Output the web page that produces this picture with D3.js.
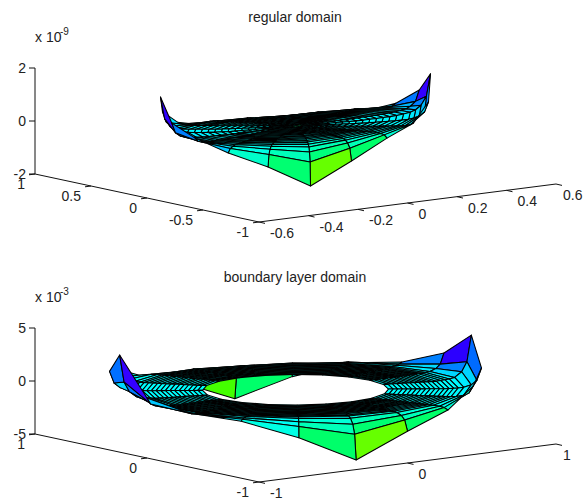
<!DOCTYPE html>
<html>
<head>
<meta charset="utf-8">
<script src="https://cdn.jsdelivr.net/npm/d3@7"></script>
<style>
body { margin: 0; background: #fff; }
text { font-family: "Liberation Sans", Arial, sans-serif; font-size: 14px; fill: #222; }
</style>
</head>
<body>
<div id="chart"></div>
<script>
// polar mesh, angle of every spoke in degrees
var spokes = [-108, -90, -72, -54, -36, -18, 0, 18, 36, 54, 72, 90, 108, 126, 144, 162, 180, 198, 216, 234]

// height on the outer rim for every spoke
var topRimZ = [-1.65, -0.87, -0.21, 0.13, 0.7, 1.54, 0.76, 0.15, -0.2, -0.85, -1.6, -0.87, -0.21, 0.13, 0.76, 1.52, 0.71, 0.25, -0.27, -0.83]
var botRimZ = [-4.27, -2, -0.67, 0.8, 1.58, 3.8, 1.32, -0.14, -0.6, -2, -3.9, -2, -0.67, 0.8, 1.5, 3.93, 0.66, -0.14, -0.55, -2]

// ring radii and how much of the rim height is left on each ring
var topRings = [0.5, 0.485, 0.465, 0.445, 0.425, 0.4, 0.375, 0.35, 0.325, 0.3, 0.275, 0.25, 0.225, 0.2, 0.175, 0.15, 0.125, 0.1, 0.075, 0.05, 0.025]
var topRingZ = [1, 0.46, 0.25, 0.15, 0.1, 0.07, 0.05, 0.035, 0.025, 0.015, 0.01, 0, 0, 0, 0, 0, 0, 0, 0, 0, 0]
var botRings = [1, 0.975, 0.945, 0.905, 0.875, 0.85, 0.825, 0.8, 0.775, 0.75, 0.725, 0.7, 0.675, 0.65, 0.625, 0.6, 0.575, 0.55, 0.525, 0.5]
var botRingZ = [1, 0.4, 0.18, 0.06, 0.03, 0.02, 0.01, 0, 0, 0, 0, 0, 0, 0, 0, 0, 0, 0, 0, 0]

var topHueZ = [-1.65, -0.87, -0.21, 0, 0.3, 0.76, 1.54]
var botHueZ = [-4.27, -2, -0.67, -0.35, 0.8, 1.4, 3.9]
var hues = [96, 145, 170, 180, 195, 212, 252]

var topXTicks = [-0.6, -0.4, -0.2, 0, 0.2, 0.4, 0.6]
var topYTicks = [-1, -0.5, 0, 0.5, 1]
var topZTicks = [-2, 0, 2]
var botXTicks = [-1, 0, 1]
var botYTicks = [-1, 0, 1]
var botZTicks = [-5, 0, 5]

var width = 583, height = 502

var svg = d3.select("#chart").append("svg")
    .attr("width", width)
    .attr("height", height)

draw_panel({
    title: "regular domain", exp: "-9",
    top: 0, rimZ: topRimZ, rings: topRings, ringZ: topRingZ,
    zBase: 0, xDom: [-0.6, 0.6], zDom: [-2, 2], hueZ: topHueZ,
    xTicks: topXTicks, yTicks: topYTicks, zTicks: topZTicks
})
draw_panel({
    title: "boundary layer domain", exp: "-3",
    top: 260, rimZ: botRimZ, rings: botRings, ringZ: botRingZ,
    zBase: -0.35, xDom: [-1, 1], zDom: [-5, 5], hueZ: botHueZ,
    xTicks: botXTicks, yTicks: botYTicks, zTicks: botZTicks
})

function draw_panel(p){
    var g = svg.append("g").attr("transform", "translate(0," + p.top + ")")
    var ox = 259, oy = 222

    // orthographic view, each data axis adds its own screen offset
    var xToPx = d3.scaleLinear().domain(p.xDom).range([0, 297])
    var xToPy = d3.scaleLinear().domain(p.xDom).range([0, -38])
    var yToPx = d3.scaleLinear().domain([-1, 1]).range([0, -224])
    var yToPy = d3.scaleLinear().domain([-1, 1]).range([0, -48])
    var zToPy = d3.scaleLinear().domain(p.zDom).range([0, -106])
    var hue = d3.scaleLinear().domain(p.hueZ).range(hues)

    function sx(x, y){ return ox + xToPx(x) + yToPx(y) }
    function floorY(x, y){ return oy + xToPy(x) + yToPy(y) }
    function sy(x, y, z){ return floorY(x, y) + zToPy(z) }

    // build the nodes ring by ring
    var nodes = p.rings.map(function(r, i){
        return spokes.map(function(deg, j){
            var a = deg * Math.PI / 180
            var w = p.ringZ[i]
            return {
                x: r * Math.cos(a),
                y: r * Math.sin(a),
                z: p.rimZ[j] * w + p.zBase * (1 - w)
            }
        })
    })

    var cells = []
    var n = spokes.length
    for (var i = 0; i < p.rings.length - 1; i++){
        for (var j = 0; j < n; j++){
            var k = (j + 1) % n
            var c = [nodes[i][j], nodes[i][k], nodes[i + 1][k], nodes[i + 1][j]]
            cells.push({
                pts: c,
                z0: nodes[i][j].z,
                depth: d3.mean(c, function(d){ return floorY(d.x, d.y) })
            })
        }
    }
    // painter's order, far cells first
    cells.sort(function(a, b){ return d3.ascending(a.depth, b.depth) })

    var line = d3.line()
        .x(function(d){ return sx(d.x, d.y) })
        .y(function(d){ return sy(d.x, d.y, d.z) })
        .curve(d3.curveLinearClosed)

    g.append("g").selectAll("path")
        .data(cells)
        .enter()
        .append("path")
        .attr("d", function(d){ return line(d.pts) })
        .attr("fill", function(d){ return d3.hsl(hue(d.z0), 1, 0.5).toString() })
        .attr("stroke", "#000")
        .attr("stroke-width", 1.05)
        .attr("stroke-linejoin", "round")

    // axes
    var xMin = p.xDom[0], xMax = p.xDom[1]
    var axisColor = "#111"
    function seg(x1, y1, x2, y2){
        g.append("line").attr("x1", x1).attr("y1", y1).attr("x2", x2).attr("y2", y2)
            .attr("stroke", axisColor).attr("stroke-width", 1)
    }
    seg(sx(xMin, 1), floorY(xMin, 1), sx(xMin, -1), floorY(xMin, -1))
    seg(sx(xMin, -1), floorY(xMin, -1), sx(xMax, -1), floorY(xMax, -1))
    seg(sx(xMin, 1), floorY(xMin, 1) - 106, sx(xMin, 1), floorY(xMin, 1))

    p.xTicks.forEach(function(t){
        var a = sx(t, -1), b = floorY(t, -1)
        seg(a, b, a + 6, b + 1.4)
        g.append("text").attr("x", Math.min(a + 11, width - 20)).attr("y", b + 16).attr("text-anchor", "start").text(t)
    })
    p.yTicks.forEach(function(t){
        var a = sx(xMin, t), b = floorY(xMin, t)
        seg(a, b, a - 6, b + 0.8)
        g.append("text").attr("x", a - 10).attr("y", b + 15).attr("text-anchor", "end").text(t)
    })
    p.zTicks.forEach(function(t){
        var a = sx(xMin, 1), b = floorY(xMin, 1) + (zToPy(t))
        seg(a, b, a - 6, b)
        g.append("text").attr("x", a - 9).attr("y", b + 5).attr("text-anchor", "end").text(t)
    })

    g.append("text").attr("x", 295).attr("y", 22).attr("text-anchor", "middle").text(p.title)
    g.append("text").attr("x", 35).attr("y", 42).text("x 10")
    g.append("text").attr("x", 60).attr("y", 35).style("font-size", "10px").text(p.exp)
}
</script>
</body>
</html>
